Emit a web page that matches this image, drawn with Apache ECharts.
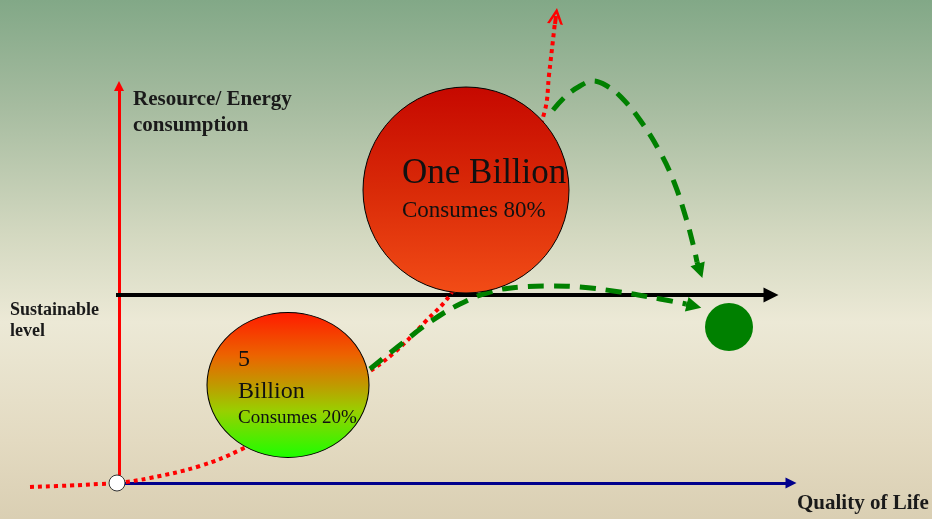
<!DOCTYPE html>
<html>
<head>
<meta charset="utf-8">
<script src="https://cdn.jsdelivr.net/npm/echarts@6/dist/echarts.min.js"></script>
<style>
  html, body { margin: 0; padding: 0; }
  #chart { width: 932px; height: 519px; }
</style>
</head>
<body>
<div id="chart"></div>
<script>
// Plane in drawing units: x = quality of life (left to right), y = depth from top (0 at top).
var xRange = [0, 932];
var yRange = [0, 519];

// Axes of the diagram (end point = centre of the arrow head)
var consumptionAxis = [[119, 483], [119, 86]];
var qualityAxis = [[117, 483], [791, 483]];
var sustainableLine = [[116, 295], [771, 295]];

// Red dotted trajectory (business as usual)
var redPath = [
  [30, 487], [70, 485.5], [100, 484], [117, 483], [150, 478], [200, 466],
  [240, 450], [300, 418], [366, 374], [395, 352], [425, 322], [452, 292],
  [500, 205], [530, 150], [545, 110], [549, 75], [553, 40], [555, 22]
];
var redTip = [[555, 24], [556, 16]];

// Green dashed trajectory from the 5 billion group
var greenLow = [
  [370, 369], [400, 345], [430, 322], [460, 304], [490, 292], [520, 287],
  [550, 286], [580, 287], [620, 292], [660, 299], [686, 304]
];
var greenLowTip = [[686, 304], [694, 306]];

// Green dashed trajectory from the one billion group
var greenHigh = [
  [553, 110], [566, 96], [580, 86], [593, 81], [607, 86], [621, 97],
  [640, 120], [660, 152], [674, 182], [686, 218], [694, 248], [697, 262]
];
var greenHighTip = [[697, 262], [700, 271]];

// Population groups: [x, y, width, height]
var bigGroup = [466, 190, 206, 206];
var smallGroup = [288, 385, 162, 145];
var targetPoint = [729, 327, 48, 48];
var originPoint = [117, 483, 16, 16];

var chart = echarts.init(document.getElementById('chart'));

function lg(stops) {
  return new echarts.graphic.LinearGradient(0, 0, 0, 1, stops.map(function (s) {
    return { offset: s[0], color: s[1] };
  }));
}

var triangle = 'path://M0,14 L6,0 L12,14 Z';

var option = {
  animation: false,
  backgroundColor: lg([
    [0, '#82a887'],
    [0.2, '#a5bb9f'],
    [0.45, '#d3d8c0'],
    [0.62, '#ece9d6'],
    [0.85, '#e3dac1'],
    [1, '#dacfb3']
  ]),
  grid: { left: 0, right: 0, top: 0, bottom: 0 },
  xAxis: { type: 'value', min: xRange[0], max: xRange[1], show: false },
  yAxis: { type: 'value', min: yRange[0], max: yRange[1], inverse: true, show: false },
  series: [
    {
      type: 'lines', coordinateSystem: 'cartesian2d', z: 2,
      symbol: ['none', triangle], symbolSize: [0, 10],
      lineStyle: { color: '#ff0000', width: 3, opacity: 1 },
      data: [{ coords: consumptionAxis }]
    },
    {
      type: 'lines', coordinateSystem: 'cartesian2d', z: 2,
      symbol: ['none', triangle], symbolSize: [0, 11],
      lineStyle: { color: '#00008c', width: 3, opacity: 1 },
      data: [{ coords: qualityAxis }]
    },
    {
      type: 'lines', coordinateSystem: 'cartesian2d', z: 2,
      symbol: ['none', triangle], symbolSize: [0, 15],
      lineStyle: { color: '#000000', width: 4, opacity: 1 },
      data: [{ coords: sustainableLine }]
    },
    {
      type: 'line', smooth: 0.4, showSymbol: false, z: 3,
      lineStyle: { color: '#ff0000', width: 4, type: [4, 4], cap: 'butt' },
      data: redPath
    },
    {
      type: 'lines', coordinateSystem: 'cartesian2d', z: 3,
      symbol: ['none', 'path://M0,14 L6,0 L12,14 L10,14 L6,5 L2,14 Z'], symbolSize: [0, 16],
      lineStyle: { color: '#ff0000', width: 4, opacity: 1 },
      data: [{ coords: redTip }]
    },
    {
      type: 'line', smooth: 0.4, showSymbol: false, z: 3,
      lineStyle: { color: '#008000', width: 5, type: [16, 10], cap: 'butt' },
      data: greenLow
    },
    {
      type: 'line', smooth: 0.4, showSymbol: false, z: 3,
      lineStyle: { color: '#008000', width: 5, type: [16, 10], cap: 'butt' },
      data: greenHigh
    },
    {
      type: 'lines', coordinateSystem: 'cartesian2d', z: 3,
      symbol: ['none', triangle], symbolSize: [0, 15],
      lineStyle: { color: '#008000', width: 5, opacity: 1 },
      data: [{ coords: greenLowTip }, { coords: greenHighTip }]
    },
    {
      type: 'scatter', z: 5, symbol: 'circle',
      symbolSize: function (v) { return [v[2], v[3]]; },
      itemStyle: {
        color: lg([[0, '#c60800'], [0.5, '#d92a08'], [1, '#f24c16']]),
        borderColor: '#000', borderWidth: 1, opacity: 1
      },
      data: [bigGroup]
    },
    {
      type: 'scatter', z: 5, symbol: 'circle',
      symbolSize: function (v) { return [v[2], v[3]]; },
      itemStyle: {
        color: lg([[0, '#ff1a00'], [0.3, '#ec6400'], [0.5, '#c09a00'], [0.68, '#98d000'], [1, '#1cff00']]),
        borderColor: '#000', borderWidth: 1, opacity: 1
      },
      data: [smallGroup]
    },
    {
      type: 'scatter', z: 5, symbol: 'circle',
      symbolSize: function (v) { return [v[2], v[3]]; },
      itemStyle: { color: '#008000', opacity: 1 },
      data: [targetPoint]
    },
    {
      type: 'scatter', z: 6, symbol: 'circle',
      symbolSize: function (v) { return [v[2], v[3]]; },
      itemStyle: { color: '#ffffff', borderColor: '#333', borderWidth: 1, opacity: 1 },
      data: [originPoint]
    }
  ],
  graphic: [
    { type: 'text', left: 133, top: 87, z: 10,
      style: { text: 'Resource/ Energy\nconsumption', font: 'bold 21px "Liberation Serif"', fill: '#1a1a1a', lineHeight: 26 } },
    { type: 'text', left: 10, top: 300, z: 10,
      style: { text: 'Sustainable\nlevel', font: 'bold 18px "Liberation Serif"', fill: '#1a1a1a', lineHeight: 21 } },
    { type: 'text', left: 797, top: 493, z: 10,
      style: { text: 'Quality of Life', font: 'bold 21px "Liberation Serif"', fill: '#1a1a1a' } },
    { type: 'text', left: 402, top: 156, z: 10,
      style: { text: 'One Billion', font: '35px "Liberation Serif"', fill: '#111' } },
    { type: 'text', left: 402, top: 199, z: 10,
      style: { text: 'Consumes 80%', font: '23px "Liberation Serif"', fill: '#111' } },
    { type: 'text', left: 238, top: 344, z: 10,
      style: { text: '5\nBillion', font: '24px "Liberation Serif"', fill: '#111', lineHeight: 32 } },
    { type: 'text', left: 238, top: 409, z: 10,
      style: { text: 'Consumes 20%', font: '19px "Liberation Serif"', fill: '#111' } }
  ]
};

chart.setOption(option);
</script>
</body>
</html>
